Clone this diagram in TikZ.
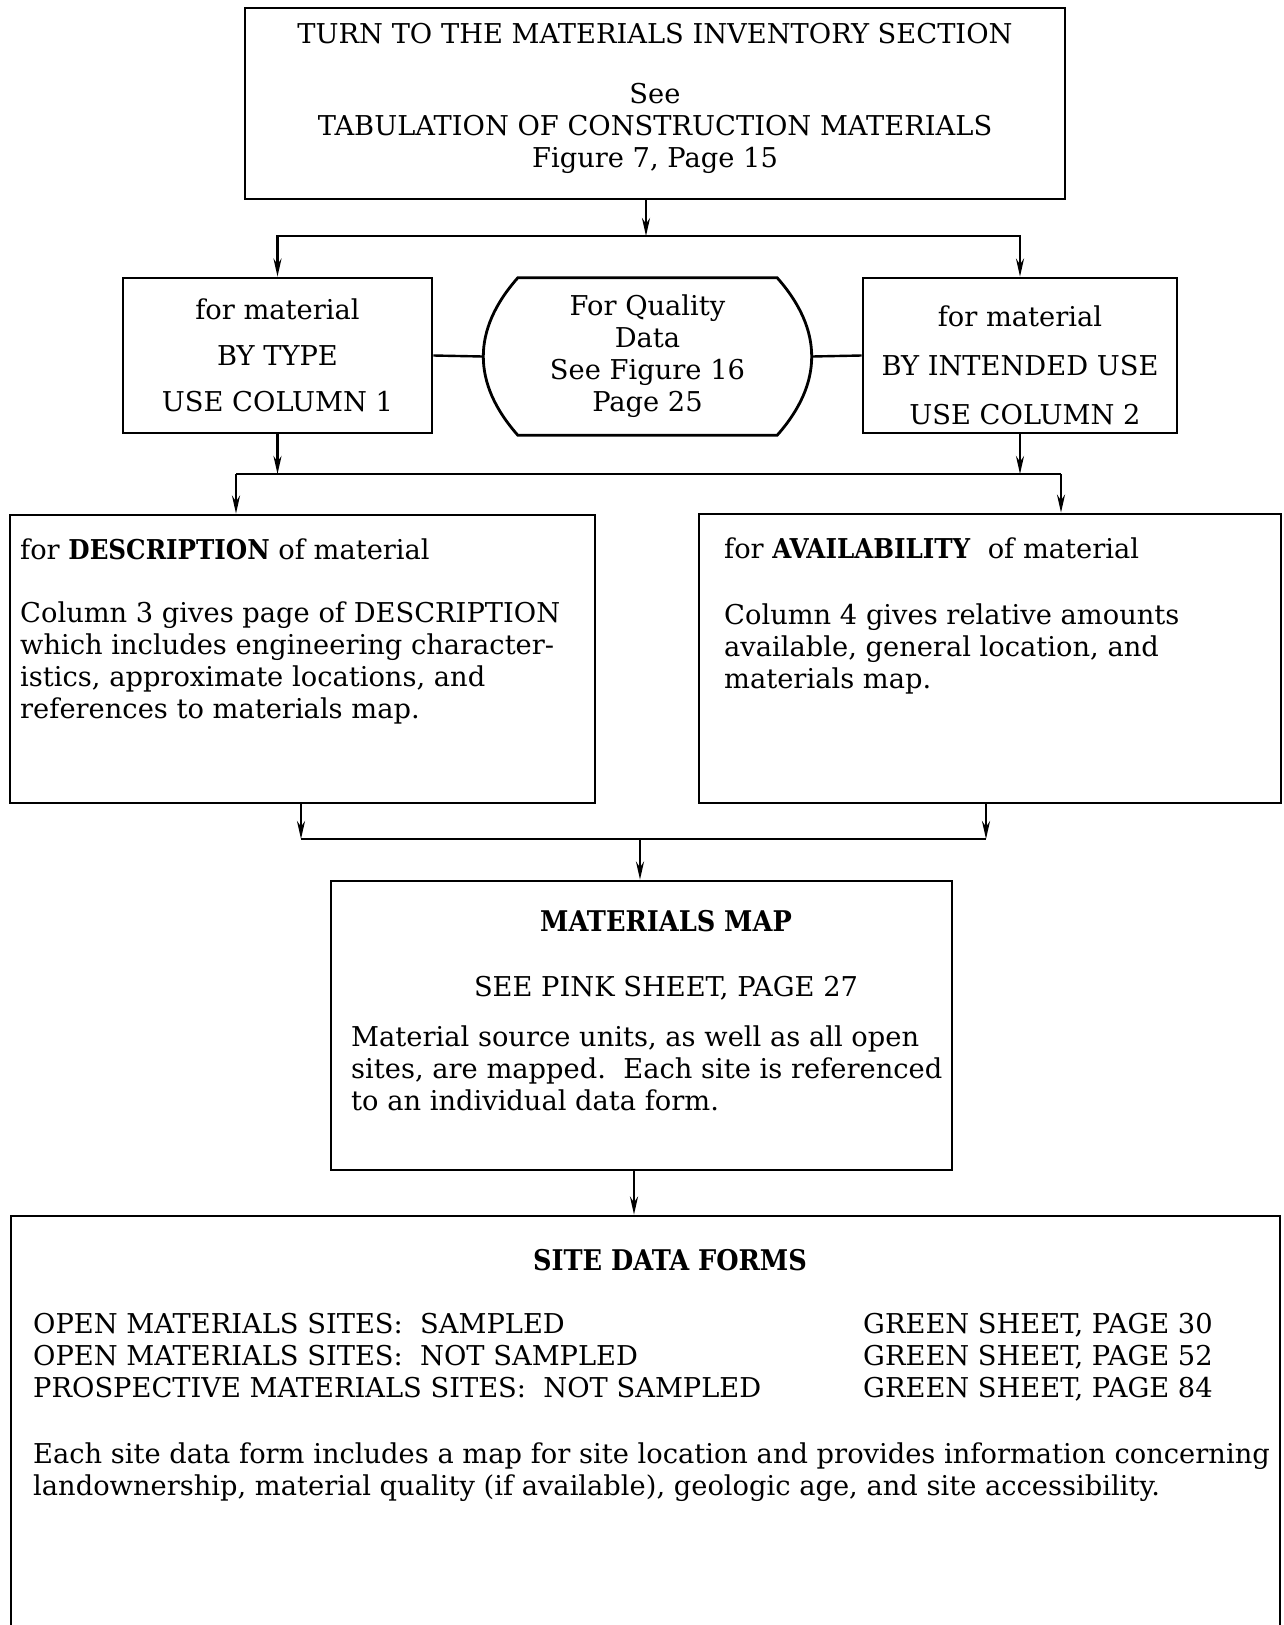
\documentclass[tikz,border=0pt]{standalone}
\usepackage{fontspec}
\setmainfont{DejaVu Serif}[BoldFont={DejaVu Serif Condensed Bold}]
\usetikzlibrary{arrows.meta,positioning}
\begin{document}
\begin{tikzpicture}[x=1pt,y=-1pt,
    box/.style={draw, line width=2.8pt, inner sep=0pt},
    txt/.style={inner sep=0pt, font=\fontsize{27.3}{32}\selectfont},
    head/.style={inner sep=0pt, font=\fontsize{28.5}{32}\selectfont\bfseries},
    link/.style={line width=2.4pt},
    arr/.style={line width=2.4pt, -{Stealth[length=18pt, width=8pt]}}]
    % --- page ---
    \useasboundingbox (0,0) rectangle (1283,1625);
    \clip (0,0) rectangle (1283,1625);

    % --- start: inventory section ---
    \node[box, txt, align=center, minimum width=820, minimum height=191] (inventory) at (655,103.5)
        {TURN TO THE MATERIALS INVENTORY SECTION\\[28pt]
         See\\
         TABULATION OF CONSTRUCTION MATERIALS\\
         Figure 7, Page 15\rule[-16pt]{0pt}{1pt}};

    % --- second row: by type / quality / by use ---
    \node[box, txt, align=center, minimum width=309, minimum height=155] (bytype) at (277.5,355.5)
        {for material\\[14pt] BY TYPE\\[14pt] USE COLUMN 1};
    \node[txt, align=center, minimum width=259, minimum height=157] (quality) at (647.5,356.5)
        {For Quality\\ Data\\ See Figure 16\\ Page 25};
    \draw[box] (quality.north west)
        .. controls ([shift={(-46pt,-52pt)}]quality.north west) and ([shift={(-46pt,52pt)}]quality.south west) .. (quality.south west)
        -- (quality.south east)
        .. controls ([shift={(46pt,52pt)}]quality.south east) and ([shift={(46pt,-52pt)}]quality.north east) .. (quality.north east)
        -- cycle;
    \node[box, txt, align=center, minimum width=314, minimum height=155] (byuse) at (1020,355.5)
        {\rule{0pt}{40pt}for material\\[17pt] BY INTENDED USE\\[17pt] \hspace*{10pt}USE COLUMN 2};

    % --- third row: description / availability ---
    \node[box, minimum width=585, minimum height=288] (description) at (302.5,659) {};
    \node[txt, align=left, anchor=north west] (descriptiontext) at (20,539)
        {for \textbf{DESCRIPTION} of material\\[31pt]
         Column 3 gives page of DESCRIPTION\\
         which includes engineering character-\\
         istics, approximate locations, and\\
         references to materials map.};
    \node[box, minimum width=582, minimum height=289] (availability) at (990,658.5) {};
    \node[txt, align=left, anchor=north west] (availabilitytext) at (724,538)
        {for \textbf{AVAILABILITY}\ \ of material\\[34pt]
         Column 4 gives relative amounts\\
         available, general location, and\\
         materials map.};

    % --- materials map ---
    \node[box, minimum width=621, minimum height=289] (map) at (641.5,1025.5) {};
    \node[head, anchor=base] (maptitle) at (666,931) {MATERIALS MAP};
    \node[txt, anchor=base] (mapsheet) at (666,996) {SEE PINK SHEET, PAGE 27};
    \node[txt, align=left, anchor=north west] (maptext) at (351,1026)
        {Material source units, as well as all open\\
         sites, are mapped.\ \ Each site is referenced\\
         to an individual data form.};

    % --- site data forms ---
    \node[box, minimum width=1269, minimum height=484] (forms) at (645.5,1458) {};
    \node[head, anchor=base] (formstitle) at (670,1270) {SITE DATA FORMS};
    \node[txt, align=left, anchor=north west] (formsites) at (33,1313)
        {OPEN MATERIALS SITES:\ \ SAMPLED\\
         OPEN MATERIALS SITES:\ \ NOT SAMPLED\\
         PROSPECTIVE MATERIALS SITES:\ \ NOT SAMPLED};
    \node[txt, align=left, anchor=north west] (formsheets) at (863,1313)
        {GREEN SHEET, PAGE 30\\ GREEN SHEET, PAGE 52\\ GREEN SHEET, PAGE 84};
    \node[txt, align=left, anchor=north west] (formsnote) at (33,1443)
        {Each site data form includes a map for site location and provides information concerning\\
         landownership, material quality (if available), geologic age, and site accessibility.};

    % --- connectors ---
    \coordinate (split) at (646,236);
    \draw[arr] (split |- inventory.south) -- (split);
    \draw[arr] (split) -| (bytype.north);
    \draw[arr] (split) -| (byuse.north);
    \draw[link] (bytype.east) -- ([xshift=-35pt]quality.west);
    \draw[link] ([xshift=35pt]quality.east) -- (byuse.west);

    \coordinate (forkl) at (236,474);
    \coordinate (forkr) at (1061,474);
    \draw[arr] (bytype.south) -- (bytype.south |- forkl);
    \draw[arr] (byuse.south) -- (byuse.south |- forkr);
    \draw[link] (forkl) -- (forkr);
    \draw[arr] (forkl) -- (forkl |- description.north);
    \draw[arr] (forkr) -- (forkr |- availability.north);

    \coordinate (mergel) at (301,839);
    \coordinate (merger) at (986,839);
    \coordinate (merge) at (640,839);
    \draw[arr] (mergel |- description.south) -- (mergel);
    \draw[arr] (merger |- availability.south) -- (merger);
    \draw[link] (mergel) -- (merger);
    \draw[arr] (merge) -- (merge |- map.north);

    \draw[arr] ([xshift=-7.5pt]map.south) -- ([xshift=-7.5pt]map.south |- forms.north);
\end{tikzpicture}
\end{document}
